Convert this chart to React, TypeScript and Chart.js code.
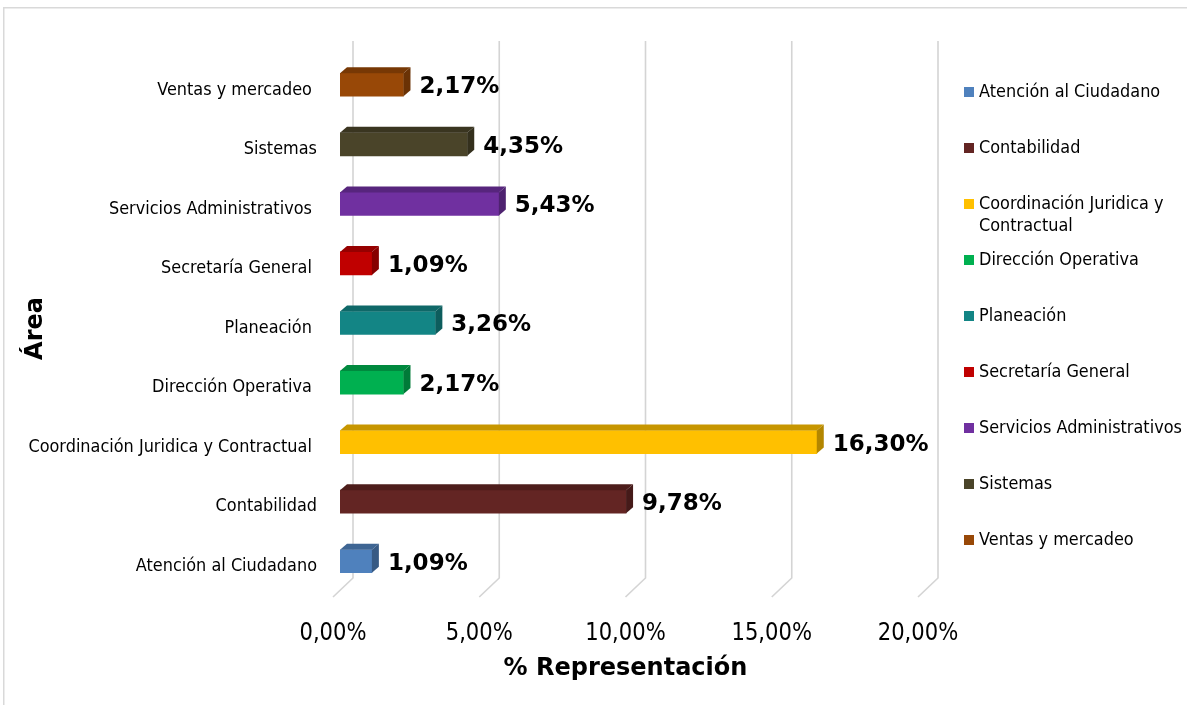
import React, { useEffect, useRef } from "react";
import { Chart, registerables } from "chart.js";

Chart.register(...registerables);

// ---- data ----
const categories = [
  "Atención al Ciudadano",
  "Contabilidad",
  "Coordinación Juridica y Contractual ",
  "Dirección Operativa ",
  "Planeación ",
  "Secretaría General ",
  "Servicios Administrativos ",
  "Sistemas",
  "Ventas y mercadeo ",
];
const values = [1.09, 9.78, 16.3, 2.17, 3.26, 1.09, 5.43, 4.35, 2.17];
const colors = [
  "#4f81bd",
  "#632523",
  "#ffc000",
  "#00b050",
  "#138585",
  "#c00000",
  "#7030a0",
  "#4a4429",
  "#984807",
];
const legendLabels = [
  ["Atención al Ciudadano"],
  ["Contabilidad"],
  ["Coordinación Juridica y", "Contractual"],
  ["Dirección Operativa"],
  ["Planeación"],
  ["Secretaría General"],
  ["Servicios Administrativos"],
  ["Sistemas"],
  ["Ventas y mercadeo"],
];
const xTickValues = [0, 5, 10, 15, 20];
const xTickLabels = ["0,00%", "5,00%", "10,00%", "15,00%", "20,00%"];
const xAxisTitle = "% Representación";
const yAxisTitle = "Área";

const FONT = "'DejaVu Sans', Verdana, sans-serif";
const NARROW = 0.87; // horizontal squeeze to mimic the narrow original face

function shade(hex: string, f: number) {
  const n = parseInt(hex.slice(1), 16);
  const r = Math.round(((n >> 16) & 255) * f);
  const g = Math.round(((n >> 8) & 255) * f);
  const b = Math.round((n & 255) * f);
  return `rgb(${r},${g},${b})`;
}
function fmtPct(v: number) {
  return v.toFixed(2).replace(".", ",") + "%";
}
function narrowText(ctx: any, text: string, x: number, y: number, sx: number) {
  ctx.save();
  ctx.translate(x, y);
  ctx.scale(sx, 1);
  ctx.fillText(text, 0, 0);
  ctx.restore();
}

const decorPlugin = {
  id: "decor",
  beforeDraw(chart: any) {
    const { ctx, width, height } = chart;
    ctx.save();
    ctx.fillStyle = "#ffffff";
    ctx.fillRect(0, 0, width, height);
    ctx.strokeStyle = "#d9d9d9";
    ctx.lineWidth = 1.5;
    ctx.strokeRect(3.75, 7.75, width + 20, height + 20);
    ctx.restore();
  },
  beforeDatasetsDraw(chart: any) {
    const { ctx, chartArea, scales } = chart;
    const xs = scales.x;
    const ys = scales.y;
    ctx.save();
    ctx.strokeStyle = "#d4d4d4";
    ctx.lineWidth = 1.6;
    const top = chartArea.top - 14;
    const backBottom = chartArea.bottom - 13;
    const frontBottom = chartArea.bottom + 6;
    xTickValues.forEach((v) => {
      const px = xs.getPixelForValue(v);
      ctx.beginPath();
      ctx.moveTo(px + 13, top);
      ctx.lineTo(px + 13, backBottom);
      ctx.lineTo(px - 7, frontBottom);
      ctx.stroke();
    });

    // x tick labels
    ctx.fillStyle = "#000";
    ctx.font = `24px ${FONT}`;
    ctx.textAlign = "center";
    ctx.textBaseline = "alphabetic";
    xTickValues.forEach((v, i) => {
      narrowText(ctx, xTickLabels[i], xs.getPixelForValue(v) - 7, 640, 0.88);
    });

    // y category labels
    ctx.font = `18.5px ${FONT}`;
    ctx.textAlign = "right";
    ctx.textBaseline = "middle";
    categories.forEach((c, i) => {
      narrowText(ctx, c, chartArea.left - 23, ys.getPixelForValue(i) + 5, NARROW);
    });
    ctx.restore();
  },
  afterDatasetsDraw(chart: any) {
    const { ctx } = chart;
    const meta = chart.getDatasetMeta(0);
    const dx = 7;
    const dy = 6;
    ctx.save();
    meta.data.forEach((el: any, i: number) => {
      const { x, y, base, height } = el.getProps(["x", "y", "base", "height"], true);
      const t = y - height / 2;
      const b = y + height / 2;
      // top face
      ctx.fillStyle = shade(colors[i], 0.78);
      ctx.beginPath();
      ctx.moveTo(base, t);
      ctx.lineTo(x, t);
      ctx.lineTo(x + dx, t - dy);
      ctx.lineTo(base + dx, t - dy);
      ctx.closePath();
      ctx.fill();
      // side face
      ctx.fillStyle = shade(colors[i], 0.7);
      ctx.beginPath();
      ctx.moveTo(x, t);
      ctx.lineTo(x + dx, t - dy);
      ctx.lineTo(x + dx, b - dy);
      ctx.lineTo(x, b);
      ctx.closePath();
      ctx.fill();
      // value label
      ctx.fillStyle = "#000";
      ctx.font = `bold 23px ${FONT}`;
      ctx.textAlign = "left";
      ctx.textBaseline = "middle";
      ctx.fillText(fmtPct(values[i]), x + dx + 9, y + 2.5);
    });

    // legend
    ctx.font = `18.5px ${FONT}`;
    ctx.textBaseline = "middle";
    ctx.textAlign = "left";
    legendLabels.forEach((lines, i) => {
      const cy = 92 + 56 * i;
      ctx.fillStyle = colors[i];
      ctx.fillRect(964, cy - 5, 10, 10);
      ctx.fillStyle = "#000";
      lines.forEach((ln, k) => narrowText(ctx, ln, 979, cy + k * 22, NARROW));
    });

    // axis titles
    ctx.font = `bold 24px ${FONT}`;
    ctx.fillStyle = "#000";
    ctx.textAlign = "center";
    ctx.textBaseline = "alphabetic";
    ctx.fillText(xAxisTitle, 625.5, 675);
    ctx.save();
    ctx.translate(42, 328.5);
    ctx.rotate(-Math.PI / 2);
    ctx.fillText(yAxisTitle, 0, 0);
    ctx.restore();
    ctx.restore();
  },
};

export default function App() {
  const ref = useRef<HTMLCanvasElement | null>(null);
  useEffect(() => {
    if (!ref.current) return;
    const chart = new Chart(ref.current, {
      type: "bar",
      data: {
        labels: categories,
        datasets: [
          {
            data: values,
            backgroundColor: colors,
            borderWidth: 0,
            barThickness: 23,
          },
        ],
      },
      options: {
        indexAxis: "y",
        responsive: false,
        animation: false,
        devicePixelRatio: 1,
        layout: { padding: { left: 0, top: 55, right: 262, bottom: 0 } },
        plugins: {
          legend: { display: false },
          tooltip: { enabled: false },
          title: { display: false },
        },
        scales: {
          x: {
            type: "linear",
            min: 0,
            max: 20,
            afterBuildTicks: (s: any) => {
              s.ticks = xTickValues.map((v) => ({ value: v }));
            },
            ticks: { display: false },
            grid: { display: false, drawTicks: false },
            border: { display: false },
            afterFit: (s: any) => {
              s.height = 114;
            },
          },
          y: {
            reverse: true,
            ticks: { display: false },
            grid: { display: false, drawTicks: false },
            border: { display: false },
            afterFit: (s: any) => {
              s.width = 340;
            },
          },
        },
      },
      plugins: [decorPlugin],
    } as any);
    return () => chart.destroy();
  }, []);
  return (
    <div style={{ position: "absolute", left: 0, top: 0, width: 1187, height: 705, overflow: "hidden", background: "#fff" }}>
      <canvas ref={ref} width={1187} height={705} style={{ display: "block" }} />
    </div>
  );
}
